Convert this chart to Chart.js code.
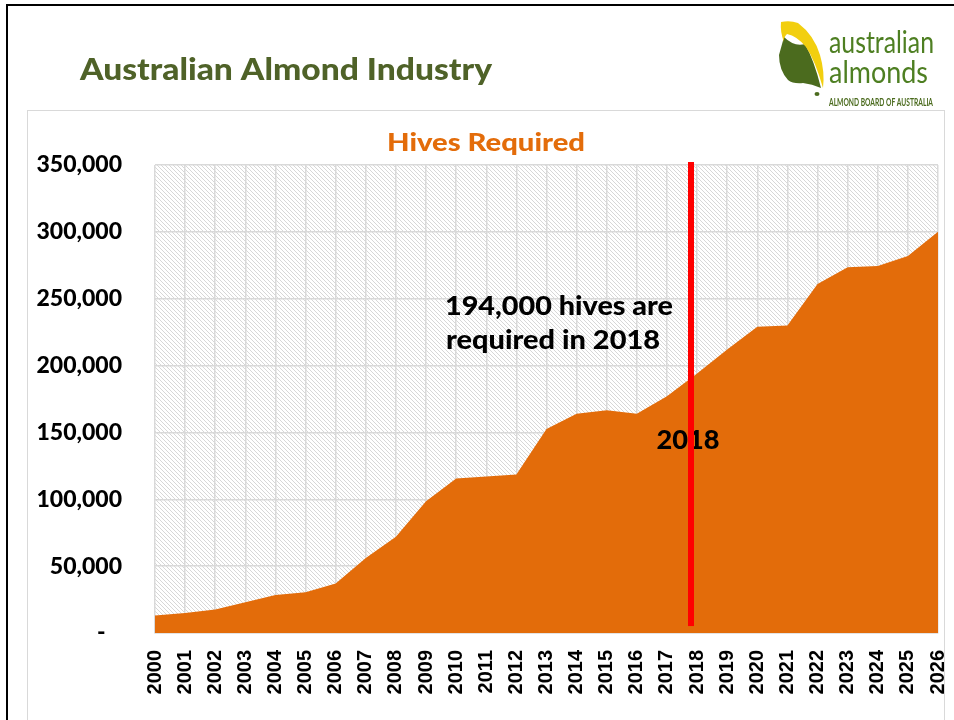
<!DOCTYPE html>
<html><head><meta charset="utf-8">
<script src="https://cdn.jsdelivr.net/npm/chart.js@4.4.1/dist/chart.umd.min.js"></script>
<style>html,body{margin:0;padding:0;background:#fff;overflow:hidden}</style>
</head><body>
<canvas id="c" width="954" height="720"></canvas>
<script>
// ---- data ----
const years = ['2000','2001','2002','2003','2004','2005','2006','2007','2008','2009','2010','2011','2012','2013','2014','2015','2016','2017','2018','2019','2020','2021','2022','2023','2024','2025','2026'];
const hives = [13000,15000,17500,23000,28500,30500,37000,56000,72000,98500,115500,117000,118500,152500,164000,166500,164000,177000,194000,212000,229000,230000,261000,273500,274500,282000,300000];
const pageTitle = 'Australian Almond Industry';
const chartTitle = 'Hives Required';
const noteLines = ['194,000 hives are', 'required in 2018'];
const markerText = '2018';
const logoLines = ['australian', 'almonds', 'ALMOND BOARD OF AUSTRALIA'];

const ORANGE = '#E36C0A';
const GRID = '#d9d9d9';

function fitText(ctx, txt, x, y, font, w, color, align) {
  ctx.save();
  ctx.font = font; ctx.fillStyle = color; ctx.textBaseline = 'alphabetic'; ctx.textAlign = 'left';
  const m = ctx.measureText(txt).width; const s = w / m;
  const x0 = align === 'center' ? x - w / 2 : (align === 'right' ? x - w : x);
  ctx.translate(x0, y); ctx.scale(s, 1); ctx.fillText(txt, 0, 0);
  ctx.restore();
}

function makeHatch(ctx) {
  const t = document.createElement('canvas'); t.width = 4; t.height = 4;
  const g = t.getContext('2d');
  g.fillStyle = '#ffffff'; g.fillRect(0, 0, 4, 4);
  g.fillStyle = '#d7d7d7';
  for (let i = 0; i < 4; i++) g.fillRect(i, i, 1, 1);
  return ctx.createPattern(t, 'repeat');
}

const decor = {
  id: 'decor',
  beforeDraw(chart) {
    const ctx = chart.ctx; const a = chart.chartArea;
    ctx.save();
    ctx.fillStyle = '#fff'; ctx.fillRect(0, 0, chart.width, chart.height);
    // frame
    ctx.fillStyle = '#000';
    ctx.fillRect(6, 4, 948, 2);
    ctx.fillRect(6, 4, 2, 716);
    // chart box
    ctx.strokeStyle = '#d9d9d9'; ctx.lineWidth = 1;
    ctx.strokeRect(27.5, 110.5, 917, 640);
    // page title
    fitText(ctx, pageTitle, 80, 80, '900 31px Lato', 412, '#4F6228', 'left');
    // chart title
    fitText(ctx, chartTitle, 486, 151, '900 25px Lato', 198, ORANGE, 'center');
    // logo shapes
    ctx.fillStyle = '#4B6B1E';
    ctx.beginPath();
    ctx.moveTo(784, 37);
    ctx.quadraticCurveTo(794, 47, 805, 44);
    ctx.quadraticCurveTo(814, 60, 821, 88);
    ctx.quadraticCurveTo(812, 84, 803, 83);
    ctx.quadraticCurveTo(793, 84, 788, 80);
    ctx.quadraticCurveTo(779, 70, 779, 55);
    ctx.closePath(); ctx.fill();
    ctx.beginPath(); ctx.ellipse(817, 94, 2.5, 2, 0, 0, Math.PI * 2); ctx.fill();
    ctx.fillStyle = '#F2CF0F';
    ctx.beginPath();
    ctx.moveTo(781, 22);
    ctx.quadraticCurveTo(790, 20, 798, 23);
    ctx.quadraticCurveTo(814, 35, 820, 55);
    ctx.quadraticCurveTo(825, 72, 823, 88);
    ctx.quadraticCurveTo(815, 60, 806, 47);
    ctx.quadraticCurveTo(797, 36, 787, 34);
    ctx.quadraticCurveTo(783, 38, 784, 42);
    ctx.quadraticCurveTo(780, 32, 781, 22);
    ctx.closePath(); ctx.fill();
    fitText(ctx, logoLines[0], 829, 53, '30px Lato', 105, '#4E7F22', 'left');
    fitText(ctx, logoLines[1], 829, 83, '30px Lato', 99, '#4E7F22', 'left');
    fitText(ctx, logoLines[2], 829, 106, 'bold 12px Lato', 104, '#4B6B1E', 'left');
    // hatched plot background
    ctx.fillStyle = makeHatch(ctx);
    ctx.fillRect(a.left, a.top, a.right - a.left, a.bottom - a.top);
    ctx.restore();
  },
  afterDatasetsDraw(chart) {
    const ctx = chart.ctx; const a = chart.chartArea;
    const xs = chart.scales.x, ys = chart.scales.y;
    ctx.save();
    fitText(ctx, noteLines[0], 445, 315, '900 26px Lato', 228, '#000', 'left');
    fitText(ctx, noteLines[1], 446, 349, '900 26px Lato', 214, '#000', 'left');
    fitText(ctx, markerText, 688, 449, '900 27px Lato', 63, '#000', 'center');
    // red marker line
    const xm = xs.getPixelForValue(17.8);
    const yb = ys.getPixelForValue(5200);
    ctx.fillStyle = '#FF0000';
    ctx.fillRect(Math.round(xm) - 3, a.top - 3, 6, yb - a.top + 3);
    ctx.restore();
  }
};

new Chart(document.getElementById('c'), {
  type: 'line',
  data: {
    labels: years,
    datasets: [{
      data: hives,
      fill: 'origin',
      backgroundColor: ORANGE,
      borderColor: ORANGE,
      borderWidth: 0,
      pointRadius: 0,
      tension: 0
    }]
  },
  options: {
    responsive: false,
    animation: false,
    devicePixelRatio: 1,
    layout: { padding: { left: 0, right: 16, top: 165, bottom: 0 } },
    plugins: { legend: { display: false }, tooltip: { enabled: false }, title: { display: false } },
    scales: {
      x: {
        offset: false,
        grid: { color: GRID, lineWidth: 1.5, drawTicks: false },
        border: { color: GRID, width: 1.5 },
        ticks: {
          autoSkip: false, minRotation: 90, maxRotation: 90, padding: 17,
          color: '#000', font: { family: 'Liberation Sans', weight: 'bold', size: 20 }
        },
        afterFit(s) { s.height = 87; s.paddingLeft = 0; s.paddingRight = 0; }
      },
      y: {
        min: 0, max: 350000,
        grid: { color: GRID, lineWidth: 1.5, drawTicks: false },
        border: { display: false },
        ticks: {
          stepSize: 50000, padding: 33, color: '#000',
          font: { family: 'Lato', weight: '900', size: 23 },
          callback: v => v === 0 ? '-   ' : v.toLocaleString('en-US')
        },
        afterFit(s) { s.width = 155; s.paddingTop = 0; s.paddingBottom = 0; }
      }
    }
  },
  plugins: [decor]
});
</script>
</body></html>
